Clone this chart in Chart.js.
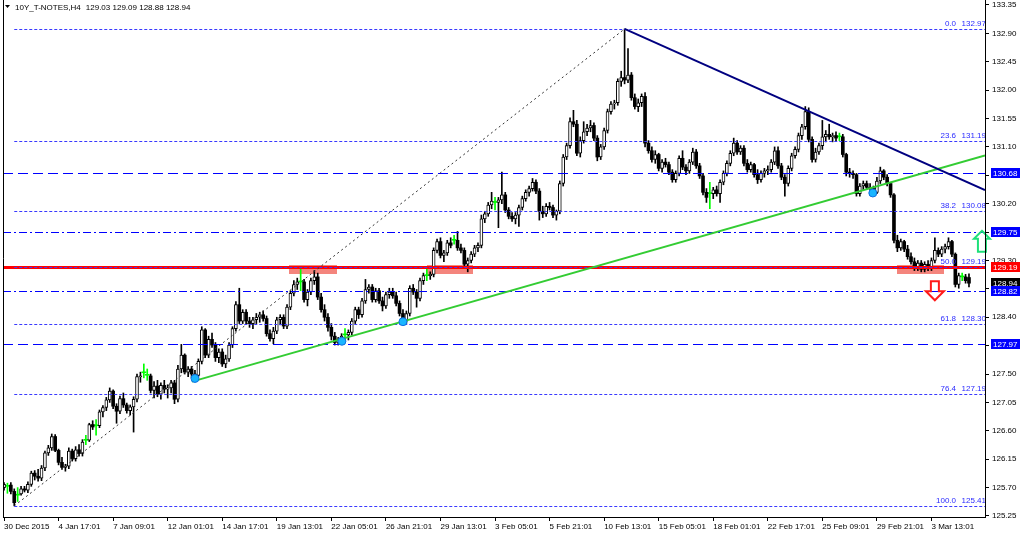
<!DOCTYPE html>
<html><head><meta charset="utf-8">
<script src="https://cdn.jsdelivr.net/npm/chart.js@4/dist/chart.umd.min.js"></script>
<style>html,body{margin:0;padding:0;background:#fff;overflow:hidden}</style>
</head><body>
<canvas id="c" width="1024" height="536" style="display:block;width:1024px;height:536px"></canvas>
<script>
// ---------------- data (10Y_T-NOTES, H4) ----------------
const opens=[
125.70,125.72,125.74,125.64,125.58,125.60,125.68,125.66,125.75,125.93,125.88,125.85,126.01,126.25,126.33,126.51,
126.29,126.10,126.02,126.04,126.28,126.16,126.30,126.24,126.45,126.45,126.70,126.68,126.68,126.90,126.97,127.09,
127.23,126.99,126.91,127.11,127.01,126.92,126.98,127.10,127.46,127.52,127.48,127.47,127.24,127.31,127.18,127.32,
127.26,127.28,127.36,127.10,127.58,127.80,127.53,127.58,127.50,127.48,127.70,128.20,127.80,128.05,127.96,127.76,
127.85,127.66,127.74,127.96,128.22,128.60,128.34,128.48,128.34,128.30,128.36,128.40,128.44,128.38,128.14,128.06,
128.18,128.36,128.40,128.26,128.56,128.78,128.92,128.96,128.96,128.68,128.80,128.98,129.04,128.72,128.52,128.40,
128.24,128.10,128.00,128.05,128.12,128.12,128.16,128.34,128.52,128.44,128.66,128.84,128.88,128.68,128.82,128.66,
128.58,128.76,128.80,128.74,128.62,128.46,128.34,128.46,128.86,128.80,128.70,128.98,129.06,129.06,129.08,129.46,
129.60,129.38,129.42,129.58,129.62,129.62,129.50,129.46,129.24,129.30,129.40,129.50,129.54,129.96,130.04,130.18,
130.22,130.22,130.26,130.34,130.10,130.00,129.96,130.02,130.14,130.28,130.38,130.44,130.54,130.40,130.08,130.04,
130.16,130.14,130.02,130.08,130.52,130.94,131.12,131.50,131.46,131.00,131.20,131.34,131.40,131.44,131.24,130.94,
131.10,131.36,131.66,131.78,131.80,132.14,132.20,132.16,132.24,131.88,131.74,131.80,131.90,131.16,131.04,130.90,
130.98,130.76,130.86,130.82,130.70,130.58,130.68,130.92,130.78,130.72,130.86,131.02,130.80,130.64,130.38,130.36,
130.36,130.42,130.36,130.54,130.68,130.84,131.00,131.16,131.02,131.08,130.84,130.74,130.82,130.66,130.58,130.68,
130.72,130.74,130.86,131.04,130.80,130.62,130.52,130.76,130.96,131.06,131.28,131.42,131.66,131.22,130.90,131.02,
131.12,131.26,131.30,131.26,131.28,131.26,131.26,130.98,130.70,130.68,130.66,130.36,130.48,130.52,130.46,130.44,
130.38,130.56,130.72,130.62,130.52,130.34,129.62,129.50,129.60,129.48,129.36,129.28,129.20,129.26,129.16,129.24,
129.18,129.30,129.46,129.40,129.48,129.52,129.60,129.40,128.92,129.04,129.04,129.03];
const highs=[
125.78,125.77,125.78,125.68,125.70,125.72,125.72,125.79,125.96,125.97,125.99,126.05,126.28,126.37,126.55,126.54,
126.31,126.18,126.07,126.33,126.31,126.35,126.38,126.46,126.53,126.72,126.76,126.78,126.93,127.00,127.13,127.28,
127.25,127.03,127.15,127.20,127.04,127.01,127.14,127.50,127.53,127.66,127.58,127.50,127.38,127.40,127.36,127.40,
127.33,127.40,127.40,127.64,127.97,127.82,127.62,127.62,127.56,127.74,128.25,128.22,128.10,128.15,128.00,127.90,
127.90,127.80,128.00,128.25,128.65,128.86,128.52,128.52,128.40,128.40,128.46,128.48,128.50,128.42,128.20,128.24,
128.40,128.44,128.44,128.60,128.82,128.98,129.02,129.18,129.00,128.84,129.02,129.14,129.10,128.78,128.60,128.46,
128.30,128.16,128.08,128.14,128.22,128.20,128.38,128.56,128.56,128.70,129.00,128.92,128.92,128.86,128.86,128.72,
128.80,128.86,128.86,128.80,128.66,128.52,128.50,128.90,128.92,128.84,129.02,129.10,129.18,129.12,129.50,129.64,
129.66,129.46,129.62,129.66,129.70,129.76,129.56,129.50,129.34,129.44,129.54,129.58,130.02,130.08,130.22,130.38,
130.30,130.30,130.70,130.38,130.14,130.06,130.06,130.18,130.32,130.42,130.48,130.60,130.58,130.44,130.16,130.20,
130.22,130.18,130.10,130.56,130.98,131.16,131.56,131.68,131.52,131.26,131.50,131.46,131.52,131.48,131.28,131.14,
131.40,131.70,131.82,131.84,132.18,132.30,132.97,132.66,132.28,131.94,131.86,131.94,131.96,131.20,131.10,131.04,
131.00,130.90,130.92,130.86,130.74,130.72,130.96,131.04,130.82,130.90,131.08,131.06,130.84,130.68,130.44,130.54,
130.46,130.48,130.58,130.72,130.88,131.04,131.24,131.20,131.12,131.12,130.90,130.86,130.84,130.74,130.72,130.76,
130.80,130.90,131.10,131.10,130.84,130.66,130.80,131.00,131.10,131.32,131.46,131.74,131.72,131.26,131.08,131.16,
131.52,131.36,131.46,131.32,131.34,131.32,131.30,131.00,130.76,130.72,130.68,130.52,130.56,130.56,130.52,130.48,
130.62,130.78,130.74,130.66,130.54,130.36,129.70,129.64,129.62,129.54,129.42,129.34,129.30,129.30,129.28,129.30,
129.34,129.66,129.50,129.52,129.56,129.66,129.62,129.42,129.10,129.10,129.08,129.09];
const lows=[
125.66,125.61,125.60,125.41,125.48,125.58,125.63,125.62,125.72,125.82,125.80,125.81,125.97,126.21,126.29,126.27,
126.06,125.99,125.96,126.00,126.12,126.12,126.20,126.20,126.38,126.43,126.62,126.53,126.65,126.82,126.92,127.05,
126.95,126.72,126.87,126.97,126.88,126.85,126.58,127.06,127.37,127.44,127.40,127.20,127.12,127.14,127.10,127.20,
127.12,127.20,127.03,127.06,127.52,127.50,127.46,127.44,127.42,127.45,127.66,127.76,127.76,127.92,127.70,127.68,
127.62,127.60,127.70,127.92,128.18,128.30,128.30,128.30,128.24,128.22,128.30,128.32,128.34,128.10,128.02,127.98,
128.14,128.28,128.22,128.22,128.52,128.74,128.84,128.82,128.64,128.58,128.76,128.92,128.68,128.48,128.34,128.18,
128.04,127.96,127.96,127.98,128.00,128.04,128.12,128.30,128.38,128.40,128.62,128.78,128.64,128.64,128.62,128.50,
128.54,128.70,128.70,128.58,128.42,128.30,128.30,128.42,128.76,128.56,128.66,128.92,128.98,129.00,129.04,129.42,
129.34,129.28,129.38,129.50,129.56,129.46,129.42,129.20,129.12,129.26,129.36,129.44,129.50,129.90,130.00,130.12,
130.10,129.82,130.20,130.06,129.96,129.92,129.88,129.84,130.10,130.24,130.32,130.40,130.36,129.94,129.98,130.00,
130.10,129.98,129.94,130.04,130.48,130.90,131.08,131.42,130.96,130.94,131.16,131.28,131.34,131.20,130.88,130.90,
131.06,131.32,131.62,131.70,131.76,132.06,132.10,132.12,131.84,131.70,131.66,131.74,131.10,131.00,130.86,130.84,
130.72,130.70,130.78,130.66,130.54,130.54,130.64,130.74,130.66,130.68,130.82,130.76,130.60,130.34,130.22,130.12,
130.28,130.32,130.22,130.50,130.64,130.80,130.96,130.98,130.98,130.80,130.70,130.70,130.62,130.52,130.54,130.62,
130.66,130.70,130.82,130.76,130.58,130.32,130.48,130.72,130.92,131.02,131.22,131.38,131.18,130.86,130.86,130.98,
131.06,131.18,131.22,131.18,131.20,131.20,130.94,130.64,130.62,130.60,130.32,130.32,130.42,130.44,130.34,130.34,
130.36,130.52,130.58,130.48,130.30,129.58,129.44,129.46,129.44,129.32,129.24,129.14,129.14,129.12,129.12,129.14,
129.14,129.26,129.36,129.36,129.42,129.48,129.36,128.88,128.86,128.98,128.94,128.88];
const closes=[
125.75,125.72,125.64,125.46,125.58,125.68,125.66,125.75,125.93,125.88,125.85,126.01,126.25,126.33,126.51,126.29,
126.10,126.02,126.04,126.28,126.16,126.30,126.24,126.42,126.45,126.70,126.66,126.68,126.90,126.97,127.09,127.23,
126.99,126.91,127.11,127.01,126.92,126.98,127.10,127.46,127.47,127.52,127.48,127.24,127.31,127.18,127.32,127.26,
127.28,127.36,127.10,127.58,127.80,127.53,127.58,127.50,127.48,127.70,128.20,127.80,128.05,127.96,127.76,127.85,
127.66,127.74,127.96,128.22,128.60,128.34,128.48,128.34,128.30,128.36,128.40,128.44,128.38,128.14,128.06,128.18,
128.36,128.40,128.26,128.56,128.78,128.92,128.96,128.96,128.68,128.80,128.98,129.04,128.72,128.52,128.40,128.24,
128.10,128.00,128.05,128.10,128.12,128.16,128.34,128.52,128.44,128.66,128.84,128.88,128.68,128.82,128.66,128.58,
128.76,128.80,128.74,128.62,128.46,128.34,128.46,128.86,128.80,128.70,128.98,129.06,129.06,129.08,129.46,129.60,
129.38,129.42,129.58,129.54,129.62,129.50,129.46,129.24,129.30,129.40,129.50,129.54,129.96,130.04,130.18,130.24,
130.22,130.26,130.34,130.10,130.00,129.96,130.02,130.14,130.28,130.38,130.44,130.54,130.40,130.08,130.04,130.16,
130.14,130.02,130.08,130.52,130.94,131.12,131.50,131.46,131.00,131.20,131.34,131.40,131.44,131.24,130.94,131.10,
131.36,131.66,131.78,131.80,132.14,132.20,132.16,132.24,131.88,131.74,131.80,131.90,131.16,131.04,130.90,130.98,
130.76,130.86,130.82,130.70,130.58,130.68,130.92,130.78,130.72,130.86,131.02,130.80,130.64,130.38,130.30,130.36,
130.42,130.36,130.54,130.68,130.84,131.00,131.16,131.02,131.08,130.84,130.74,130.82,130.66,130.58,130.68,130.72,
130.74,130.86,131.04,130.80,130.62,130.52,130.76,130.96,131.06,131.28,131.42,131.66,131.22,130.90,131.02,131.12,
131.26,131.30,131.26,131.28,131.24,131.26,130.98,130.70,130.68,130.66,130.36,130.48,130.52,130.46,130.44,130.38,
130.56,130.72,130.62,130.52,130.34,129.62,129.50,129.60,129.48,129.36,129.28,129.20,129.26,129.16,129.24,129.18,
129.30,129.46,129.40,129.48,129.52,129.60,129.40,128.92,129.06,129.04,128.98,128.94];

const dateLabels=['30 Dec 2015','4 Jan 17:01','7 Jan 09:01','12 Jan 01:01','14 Jan 17:01','19 Jan 13:01','22 Jan 05:01','26 Jan 21:01','29 Jan 13:01','3 Feb 05:01','5 Feb 21:01','10 Feb 13:01','15 Feb 05:01','18 Feb 01:01','22 Feb 17:01','25 Feb 09:01','29 Feb 21:01','3 Mar 13:01'];
const barsPerLabel=16;
const priceTicks=[125.25,125.70,126.15,126.60,127.05,127.50,127.95,128.40,128.85,129.30,129.75,130.20,130.65,131.10,131.55,132.00,132.45,132.90,133.35];

// Fibonacci retracement (anchor bars / prices) and its levels
const fibAnchorBars=[3,182];
const fibAnchorPrices=[125.41,132.97];
const fibRatios=['0.0','23.6','38.2','50.0','61.8','76.4','100.0'];
const fibPrices=[132.97,131.19,130.08,129.19,128.30,127.19,125.41];

// horizontal levels
const levelPrices=[130.68,129.75,129.19,128.82,127.97];
// trend lines (bar, price) anchors
const greenTrendBars=[55.1,239.3], greenTrendPrices=[127.38,130.22];
const navyTrendBars=[182,235], navyTrendPrices=[132.97,131.69];
// zones (bar range, price range)
const zoneBars=[[83.6,97.7],[124.0,137.5],[261.9,275.6]];
const zonePrices=[129.23,129.09];
// touch markers
const markerBars=[56,99.1,117,254.8];
const markerPrices=[127.43,128.02,128.33,130.37];
// arrow objects (tip position)
const upArrowBar=286.8, upArrowPrice=129.77;
const downArrowBar=273.0, downArrowPrice=128.67;

const symbolTitle='10Y_T-NOTES,H4';
const lastQuote='129.03 129.09 128.88 128.94';

// ---------------- styles ----------------
const FONT='"Liberation Sans", Arial, sans-serif';
const levelStyles=[
  {dash:[10,5],color:'#0000ff',width:1,box:'#0000ff'},
  {dash:[8,3,2,3],color:'#0000ff',width:1,box:'#0000ff'},
  {dash:[],color:'#ff0000',width:3,box:'#ff0000'},
  {dash:[8,3,2,3],color:'#0000ff',width:1,box:'#0000ff'},
  {dash:[10,5],color:'#0000ff',width:1,box:'#0000ff'}
];

// ---------------- datasets ----------------
const N=opens.length;
const idx=[...Array(N).keys()];
const isDoji=i=>opens[i]===closes[i];
const bull=idx.filter(i=>closes[i]>opens[i]).map(i=>({x:i,y:[opens[i],closes[i]]}));
const bear=idx.filter(i=>closes[i]<opens[i]).map(i=>({x:i,y:[closes[i],opens[i]]}));
const dojiBody=idx.filter(isDoji).map(i=>({x:i,y:[opens[i],closes[i]]}));
const dojiWick=idx.filter(isDoji).map(i=>({x:i,y:[lows[i],highs[i]]}));
const wicks=idx.filter(i=>!isDoji(i)).map(i=>({x:i,y:[lows[i],highs[i]]}));

const common={type:'bar',grouped:false,borderSkipped:false};
const datasets=[
  Object.assign({},common,{label:'bull',data:bull,backgroundColor:'#ffffff',borderColor:'#000000',borderWidth:1,barThickness:3}),
  Object.assign({},common,{label:'bear',data:bear,backgroundColor:'#000000',borderColor:'#000000',borderWidth:0,barThickness:3}),
  Object.assign({},common,{label:'dojiBody',data:dojiBody,backgroundColor:'#00ff00',borderWidth:0,barThickness:4,minBarLength:1}),
  Object.assign({},common,{label:'dojiWick',data:dojiWick,backgroundColor:'#00ff00',borderWidth:0,barThickness:1}),
  Object.assign({},common,{label:'wick',data:wicks,backgroundColor:'#000000',borderWidth:0,barThickness:1})
];

function clipArea(ctx,a){ctx.beginPath();ctx.rect(a.left,a.top,a.right-a.left,a.bottom-a.top);ctx.clip();}
function hline(ctx,a,y,x0,style){
  ctx.save();ctx.strokeStyle=style.color;ctx.lineWidth=style.width;ctx.setLineDash(style.dash||[]);
  const yy=style.width%2===1?Math.round(y)+0.5:Math.round(y);
  ctx.beginPath();ctx.moveTo(x0,yy);ctx.lineTo(a.right,yy);ctx.stroke();ctx.restore();
}
function ray(ctx,a,x,y,bars,prices,color,width,dash){
  const x1=x.getPixelForValue(bars[0]),y1=y.getPixelForValue(prices[0]);
  const x2=x.getPixelForValue(bars[1]),y2=y.getPixelForValue(prices[1]);
  const k=(y2-y1)/(x2-x1);const xe=a.right;const ye=y1+k*(xe-x1);
  ctx.save();ctx.strokeStyle=color;ctx.lineWidth=width;ctx.setLineDash(dash||[]);
  ctx.beginPath();ctx.moveTo(x1,y1);ctx.lineTo(xe,ye);ctx.stroke();ctx.restore();
}

const overlay={
  id:'overlay',
  beforeDatasetsDraw(chart){
    const {ctx,chartArea:a,scales:{x,y}}=chart;
    ctx.save();clipArea(ctx,a);
    ctx.fillStyle='#f4857d';
    zoneBars.forEach(z=>{
      const x0=x.getPixelForValue(z[0]),x1=x.getPixelForValue(z[1]);
      const y0=y.getPixelForValue(zonePrices[0]),y1=y.getPixelForValue(zonePrices[1]);
      ctx.fillRect(Math.round(x0),Math.round(y0),Math.round(x1-x0),Math.round(y1-y0));
    });
    ctx.restore();
  },
  afterDatasetsDraw(chart){
    const {ctx,chartArea:a,scales:{x,y}}=chart;
    ctx.save();clipArea(ctx,a);
    // horizontal levels
    levelPrices.forEach((p,i)=>hline(ctx,a,y.getPixelForValue(p),a.left,levelStyles[i]));
    // fib diagonal
    ctx.save();ctx.strokeStyle='#333';ctx.lineWidth=1;ctx.setLineDash([2,3]);
    ctx.beginPath();ctx.moveTo(x.getPixelForValue(fibAnchorBars[0]),y.getPixelForValue(fibAnchorPrices[0]));
    ctx.lineTo(x.getPixelForValue(fibAnchorBars[1]),y.getPixelForValue(fibAnchorPrices[1]));ctx.stroke();ctx.restore();
    // fib levels (on top of the level lines)
    const fx=x.getPixelForValue(fibAnchorBars[0]);
    fibPrices.forEach(p=>hline(ctx,a,y.getPixelForValue(p),fx,{color:'#3a3aff',width:1,dash:[3,2]}));
    // trend lines
    ray(ctx,a,x,y,greenTrendBars,greenTrendPrices,'#33cc33',2);
    ray(ctx,a,x,y,navyTrendBars,navyTrendPrices,'#000080',2);
    // markers
    markerBars.forEach((b,i)=>{
      const px=x.getPixelForValue(b),py=y.getPixelForValue(markerPrices[i]);
      ctx.beginPath();ctx.arc(px,py,4,0,Math.PI*2);ctx.fillStyle='#19b5ff';ctx.fill();
      ctx.lineWidth=1;ctx.strokeStyle='#1070e0';ctx.stroke();
    });
    // fib labels
    ctx.font='8px '+FONT;ctx.textAlign='right';ctx.textBaseline='bottom';ctx.fillStyle='#2a2aff';
    fibPrices.forEach((p,i)=>{
      const py=Math.round(y.getPixelForValue(p));
      ctx.fillText(p.toFixed(2),a.right+1,py-1);
      ctx.fillText(fibRatios[i],a.right-29,py-1);
    });
    ctx.restore();
    // arrows (hollow)
    ctx.save();ctx.lineWidth=2;ctx.lineJoin='miter';
    let tx=x.getPixelForValue(upArrowBar),ty=y.getPixelForValue(upArrowPrice);
    ctx.strokeStyle='#1ee07a';ctx.beginPath();
    ctx.moveTo(tx,ty);ctx.lineTo(tx+8,ty+8);ctx.lineTo(tx+4,ty+8);ctx.lineTo(tx+4,ty+21);ctx.lineTo(tx-4,ty+21);ctx.lineTo(tx-4,ty+8);ctx.lineTo(tx-8,ty+8);ctx.closePath();ctx.stroke();
    tx=x.getPixelForValue(downArrowBar);ty=y.getPixelForValue(downArrowPrice);
    ctx.strokeStyle='#ff1a1a';ctx.beginPath();
    ctx.moveTo(tx,ty);ctx.lineTo(tx+9,ty-9);ctx.lineTo(tx+4,ty-9);ctx.lineTo(tx+4,ty-19);ctx.lineTo(tx-4,ty-19);ctx.lineTo(tx-4,ty-9);ctx.lineTo(tx-9,ty-9);ctx.closePath();ctx.stroke();
    ctx.restore();
  },
  afterDraw(chart){
    const {ctx,chartArea:a,scales:{y}}=chart;
    ctx.save();
    // frame (left, bottom, right)
    ctx.strokeStyle='#000';ctx.lineWidth=1;
    ctx.beginPath();ctx.moveTo(a.left+0.5,0);ctx.lineTo(a.left+0.5,a.bottom+0.5);ctx.lineTo(a.right+0.5,a.bottom+0.5);ctx.lineTo(a.right+0.5,0);ctx.stroke();
    // price boxes on axis
    ctx.font='8px '+FONT;ctx.textBaseline='middle';ctx.textAlign='left';
    const boxes=[
      {p:levelPrices[0],c:levelStyles[0].box},{p:levelPrices[1],c:levelStyles[1].box},{p:levelPrices[2],c:levelStyles[2].box},
      {p:closes[N-1],c:'#000000'},{p:levelPrices[3],c:levelStyles[3].box},{p:levelPrices[4],c:levelStyles[4].box}
    ];
    boxes.forEach(b=>{
      const py=Math.round(y.getPixelForValue(b.p));
      ctx.fillStyle=b.c;ctx.fillRect(a.right+6,py-5,29,10);
      ctx.fillStyle='#fff';ctx.fillText(b.p.toFixed(2),a.right+8,py+0.5);
    });
    // title
    ctx.fillStyle='#000';ctx.beginPath();ctx.moveTo(5,5);ctx.lineTo(10,5);ctx.lineTo(7.5,8);ctx.closePath();ctx.fill();
    ctx.textBaseline='middle';ctx.textAlign='left';
    ctx.fillText(symbolTitle,15,8);
    ctx.fillText(lastQuote,15+ctx.measureText(symbolTitle).width+5,8);
    ctx.restore();
  }
};

new Chart(document.getElementById('c'),{
  data:{datasets},
  options:{
    responsive:false,animation:false,events:[],
    layout:{padding:{left:3,top:1,right:0,bottom:0}},
    plugins:{legend:{display:false},tooltip:{enabled:false},title:{display:false}},
    scales:{
      x:{type:'linear',position:'bottom',min:-0.3,max:287.7,offset:false,
        afterBuildTicks:s=>{s.ticks=dateLabels.map((l,k)=>({value:k*barsPerLabel}));},
        afterFit:s=>{s.height=19;s.paddingLeft=0;s.paddingRight=0;},
        ticks:{autoSkip:false,maxRotation:0,minRotation:0,align:'start',padding:1,color:'#000',font:{family:FONT,size:8},
          callback:v=>dateLabels[Math.round(v/barsPerLabel)]},
        grid:{drawOnChartArea:false,drawTicks:true,tickLength:4,color:'#000',offset:false},
        border:{display:true,color:'#000'}},
      y:{type:'linear',position:'right',min:125.234,max:133.413,
        afterBuildTicks:s=>{s.ticks=priceTicks.map(v=>({value:v}));},
        afterFit:s=>{s.width=39;s.paddingTop=0;s.paddingBottom=0;},
        ticks:{padding:3,color:'#000',font:{family:FONT,size:8},callback:v=>Number(v).toFixed(2)},
        grid:{drawOnChartArea:false,drawTicks:true,tickLength:4,color:'#000'},
        border:{display:true,color:'#000'}}
    }
  },
  plugins:[overlay]
});
</script>
</body></html>
